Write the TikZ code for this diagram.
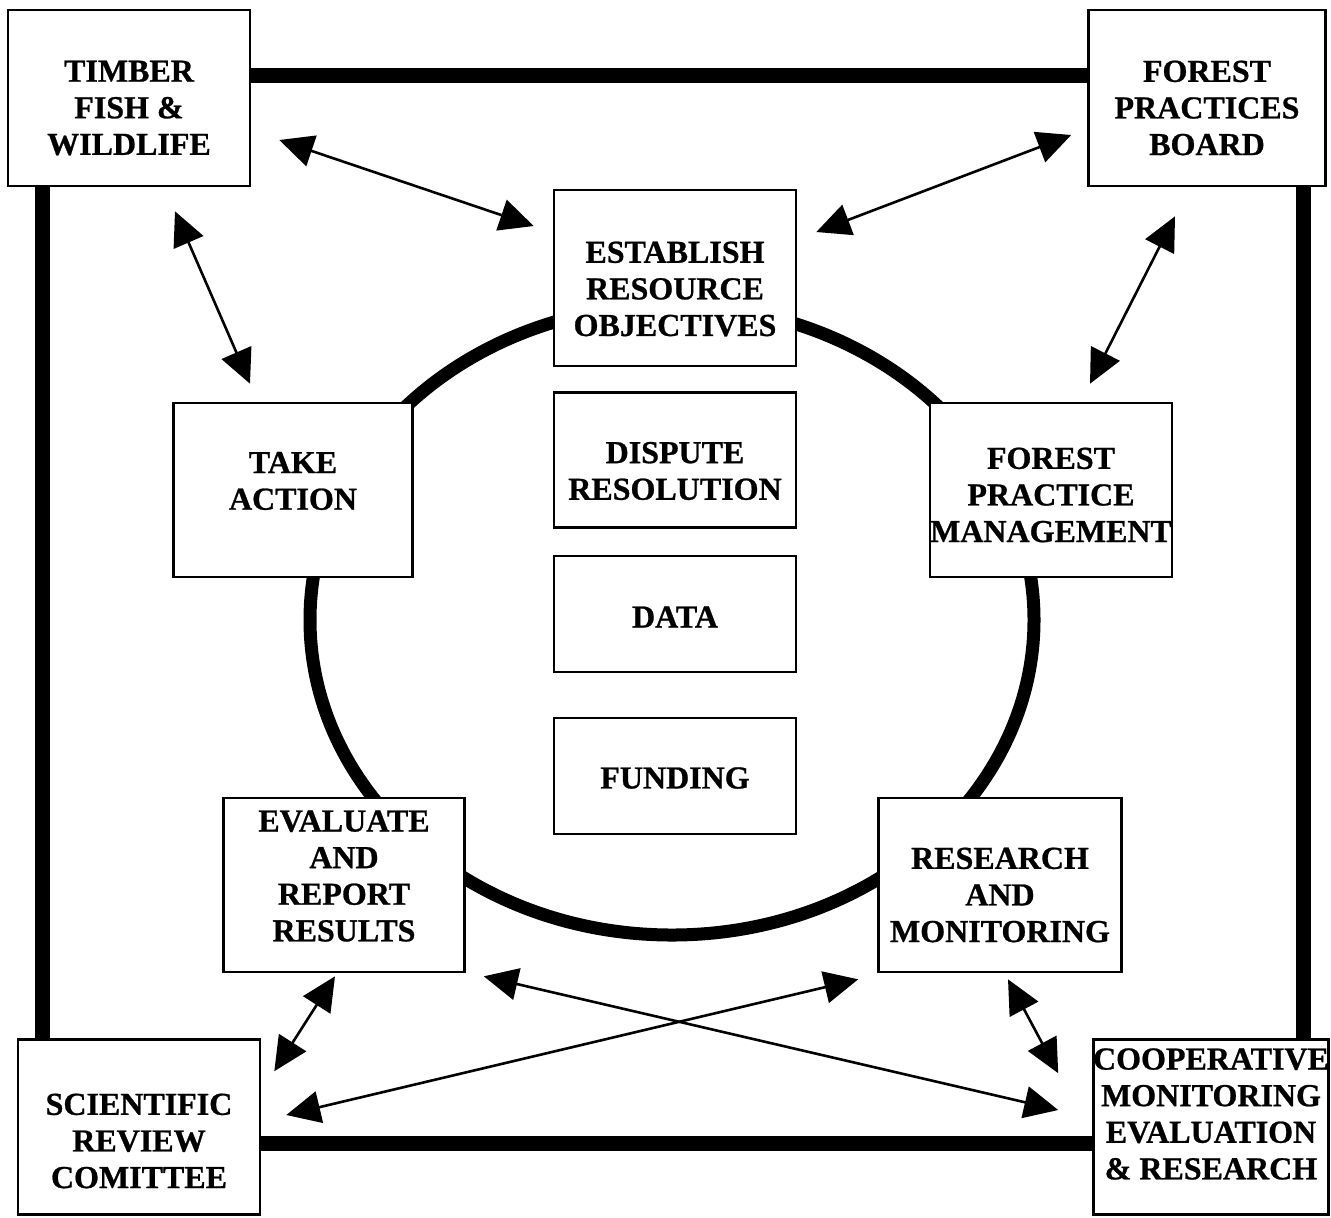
\documentclass[tikz,border=0pt]{standalone}
\usepackage{fontspec}
\setmainfont{Liberation Serif}[BoldFeatures={FakeBold=0.8}]
\usetikzlibrary{arrows.meta,calc}
\tikzset{
  box/.style={draw, line width=1.3pt, fill=white, rectangle, inner sep=0pt},
  txt/.style={align=center, inner sep=0pt, font=\bfseries\fontsize{16}{18.3}\selectfont},
  frame/.style={line width=7.5pt},
  ring/.style={line width=6.5pt},
  link/.style={line width=1.3pt, {Triangle[length=17pt,width=16pt]}-{Triangle[length=17pt,width=16pt]}}
}
\begin{document}
\begin{tikzpicture}[x=0.5pt,y=-0.5pt]
\useasboundingbox[fill=white] (0,0) rectangle (1331,1217);
% ring
\draw[ring] (672,620) ellipse [x radius=181pt, y radius=157.5pt];
% boxes
\node[box, minimum width=121pt, minimum height=88pt,
  label={[txt, yshift=-5pt]center:{TIMBER\\FISH \&\\WILDLIFE}}] (tfw) at (129,98) {};
\node[box, minimum width=118.5pt, minimum height=88pt,
  label={[txt, yshift=-5pt]center:{FOREST\\PRACTICES\\BOARD}}] (fpb) at (1207,98) {};
\node[box, minimum width=121pt, minimum height=88pt,
  label={[txt, yshift=-5.5pt]center:{ESTABLISH\\RESOURCE\\OBJECTIVES}}] (ero) at (675,278) {};
\node[box, minimum width=119.5pt, minimum height=87pt,
  label={[txt, yshift=4.5pt]center:{TAKE\\ACTION}}] (ta) at (293,490) {};
\node[box, minimum width=121pt, minimum height=67.5pt,
  label={[txt, yshift=-5.5pt]center:{DISPUTE\\RESOLUTION}}] (dr) at (675,460) {};
\node[box, minimum width=121pt, minimum height=87pt,
  label={[txt, yshift=-2.5pt]center:{FOREST\\PRACTICE\\MANAGEMENT}}] (fpm) at (1051,490) {};
\node[box, minimum width=121pt, minimum height=58pt,
  label={[txt, yshift=-1.5pt]center:{DATA}}] (data) at (675,614) {};
\node[box, minimum width=121pt, minimum height=58pt,
  label={[txt, yshift=-1pt]center:{FUNDING}}] (fund) at (675,776) {};
\node[box, minimum width=120.5pt, minimum height=87pt,
  label={[txt, yshift=4.5pt]center:{EVALUATE\\AND\\REPORT\\RESULTS}}] (eval) at (344,885) {};
\node[box, minimum width=121.5pt, minimum height=87pt,
  label={[txt, yshift=-5pt]center:{RESEARCH\\AND\\MONITORING}}] (rm) at (1000,885) {};
\node[box, minimum width=121pt, minimum height=87.5pt,
  label={[txt, yshift=-7pt]center:{SCIENTIFIC\\REVIEW\\COMITTEE}}] (src) at (139,1127) {};
\node[box, minimum width=117.5pt, minimum height=87.5pt,
  label={[txt, yshift=6.5pt]center:{COOPERATIVE\\MONITORING\\EVALUATION\\\& RESEARCH}}] (cmer) at (1211,1127) {};
% outer frame
\draw[frame] ([yshift=11.5pt]tfw.east) -- ([yshift=11.5pt]fpb.west);
\draw[frame] ([xshift=-43.5pt]tfw.south) -- ([xshift=-43.5pt]tfw.south |- src.north);
\draw[frame] ([xshift=48pt]fpb.south) -- ([xshift=48pt]fpb.south |- cmer.north);
\draw[frame] ([yshift=-8pt]src.east) -- ([yshift=-8pt]cmer.west);
% arrows
\draw[link] ($(tfw.east)+(28,42)$) -- ($(ero.west)+(-19,-52)$);
\draw[link] ($(fpb.west)+(-16,37)$) -- ($(ero.east)+(19,-46)$);
\draw[link] ($(tfw.south)+(46,24)$) -- ($(ta.north)+(-43,-18)$);
\draw[link] ($(fpb.south)+(-32,29)$) -- ($(fpm.north)+(39,-18)$);
\draw[link] ($(eval.south)+(-9,3)$) -- ($(src.north east)+(13,33)$);
\draw[link] ($(rm.south)+(8,6)$) -- ($(cmer.north west)+(-34,35)$);
\draw[link] ($(eval.south east)+(18,3)$) -- ($(cmer.west)+(-34,-17)$);
\draw[link] ($(rm.south west)+(-19,6)$) -- ($(src.east)+(25,-12)$);
\end{tikzpicture}
\end{document}
